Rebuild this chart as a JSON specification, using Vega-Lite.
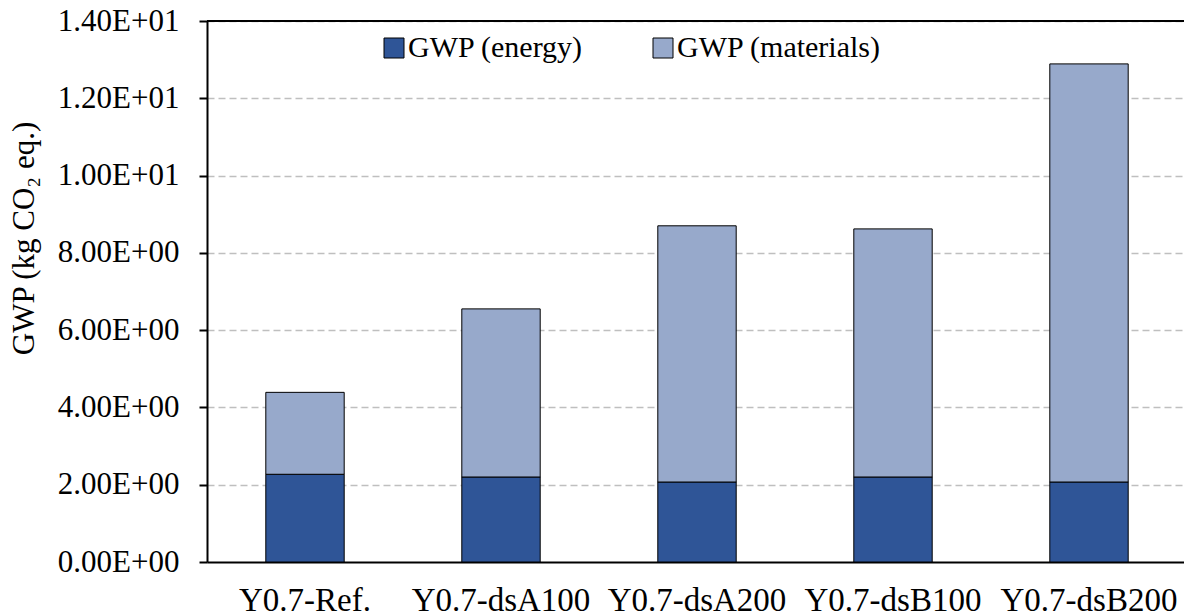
{
  "$schema": "https://vega.github.io/schema/vega-lite/v6.json",
  "autosize": "none",
  "width": 980,
  "height": 541,
  "padding": {"left": 207, "top": 21, "right": 0, "bottom": 60},
  "background": "white",
  "config": {
    "font": "Liberation Serif",
    "view": {"stroke": null}
  },
  "data": {
    "values": [
      {"case": "Y0.7-Ref.", "component": "GWP (energy)", "gwp": 2.27},
      {"case": "Y0.7-Ref.", "component": "GWP (materials)", "gwp": 2.12},
      {"case": "Y0.7-dsA100", "component": "GWP (energy)", "gwp": 2.20},
      {"case": "Y0.7-dsA100", "component": "GWP (materials)", "gwp": 4.35},
      {"case": "Y0.7-dsA200", "component": "GWP (energy)", "gwp": 2.07},
      {"case": "Y0.7-dsA200", "component": "GWP (materials)", "gwp": 6.63},
      {"case": "Y0.7-dsB100", "component": "GWP (energy)", "gwp": 2.20},
      {"case": "Y0.7-dsB100", "component": "GWP (materials)", "gwp": 6.42},
      {"case": "Y0.7-dsB200", "component": "GWP (energy)", "gwp": 2.07},
      {"case": "Y0.7-dsB200", "component": "GWP (materials)", "gwp": 10.82}
    ]
  },
  "layer": [
    {
      "mark": {"type": "bar", "stroke": "#000000", "strokeWidth": 1},
      "encoding": {
        "x": {
          "field": "case",
          "type": "nominal",
          "sort": null,
          "scale": {"paddingInner": 0.6, "paddingOuter": 0.3},
          "axis": {
            "title": null,
            "labelAngle": 0,
            "ticks": false,
            "domainColor": "#000000",
            "domainWidth": 2,
            "labelPadding": 22,
            "labelFontSize": 33,
            "labelColor": "#000000",
            "labelFont": "Liberation Serif"
          }
        },
        "y": {
          "field": "gwp",
          "type": "quantitative",
          "stack": "zero",
          "scale": {"domain": [0, 14], "nice": false},
          "axis": {
            "title": "GWP (kg CO₂ eq.)",
            "titleFontSize": 31,
            "titleFontWeight": "normal",
            "titleColor": "#000000",
            "titleFont": "Liberation Serif",
            "titlePadding": 17,
            "titleY": 217,
            "values": [0, 1, 2, 3, 4, 5, 6, 7, 8, 9, 10, 11, 12, 13, 14],
            "labelExpr": "datum.value % 2 === 1 ? '' : (datum.value >= 10 ? format(datum.value / 10, '.2f') + 'E+01' : format(datum.value, '.2f') + 'E+00')",
            "labelFontSize": 31,
            "labelColor": "#000000",
            "labelFont": "Liberation Serif",
            "labelPadding": 20,
            "tickSize": 8,
            "tickWidth": 2,
            "tickColor": "#000000",
            "domainColor": "#000000",
            "domainWidth": 2,
            "grid": true,
            "gridColor": "#BFBFBF",
            "gridWidth": 1.5,
            "gridDash": [7, 4],
            "gridOpacity": {"condition": {"test": "datum.value % 2 === 1 || datum.value === 0", "value": 0}, "value": 1}
          }
        },
        "order": {"field": "component", "sort": "ascending"},
        "color": {
          "field": "component",
          "type": "nominal",
          "scale": {"domain": ["GWP (energy)", "GWP (materials)"], "range": ["#2F5597", "#97A9CB"]},
          "legend": {
            "title": null,
            "orient": "none",
            "legendX": 172,
            "legendY": 12,
            "direction": "horizontal",
            "columns": 2,
            "columnPadding": 64,
            "symbolType": "square",
            "symbolSize": 400,
            "symbolStrokeColor": "#000000",
            "symbolStrokeWidth": 1,
            "symbolOpacity": 1,
            "labelFontSize": 30,
            "labelFont": "Liberation Serif",
            "labelColor": "#000000",
            "labelOffset": -1,
            "labelLimit": 400
          }
        }
      }
    },
    {
      "mark": {"type": "rule", "color": "#000000", "strokeWidth": 2},
      "encoding": {"y": {"datum": 14, "type": "quantitative"}}
    }
  ]
}
